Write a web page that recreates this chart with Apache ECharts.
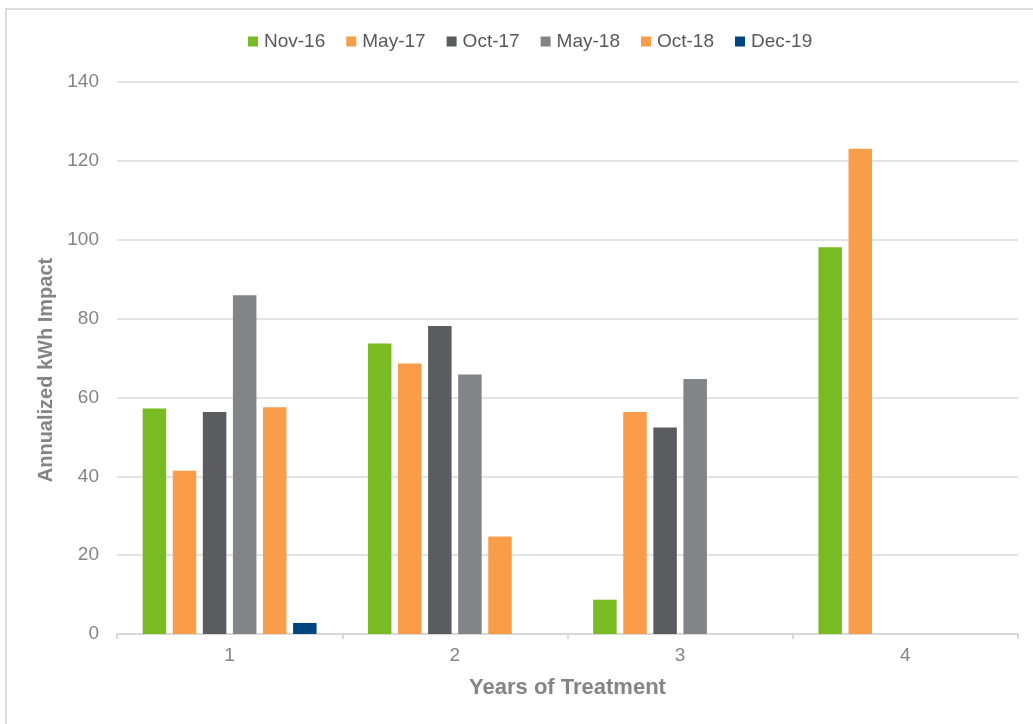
<!DOCTYPE html>
<html>
<head>
<meta charset="utf-8">
<script src="https://cdn.jsdelivr.net/npm/echarts@6/dist/echarts.min.js"></script>
<style>
  html, body { margin: 0; padding: 0; background: #fff; }
  #chart { width: 1033px; height: 724px; }
</style>
</head>
<body>
<div id="chart"></div>
<script>
// Years of treatment on the x axis
const categories = ['1', '2', '3', '4'];

// Annualized kWh impact per survey wave
const seriesNames = ['Nov-16', 'May-17', 'Oct-17', 'May-18', 'Oct-18', 'Dec-19'];
const nov16 = [57.2, 73.7, 8.7, 98.1];
const may17 = [41.4, 68.6, 56.3, 123.1];
const oct17 = [56.3, 78.1, 52.4, null];
const may18 = [85.9, 65.8, 64.7, null];
const oct18 = [57.5, 24.7, null, null];
const dec19 = [2.8, null, null, null];

const seriesValues = [nov16, may17, oct17, may18, oct18, dec19];
const seriesColors = ['#78BB22', '#F99D4B', '#5B5C60', '#838488', '#F99D4B', '#004580'];

const axisText = '#848484';

const chart = echarts.init(document.getElementById('chart'), null, { renderer: 'canvas' });

chart.setOption({
  animation: false,
  backgroundColor: '#ffffff',
  textStyle: { fontFamily: '"Liberation Sans", Arial, sans-serif' },
  graphic: [{
    type: 'rect',
    shape: { x: 6, y: 9, width: 1040, height: 730 },
    style: { fill: 'none', stroke: '#DDDDDD', lineWidth: 2 },
    silent: true
  }],
  legend: {
    top: 27,
    left: 243,
    itemWidth: 10,
    itemHeight: 10,
    itemGap: 21,
    icon: 'rect',
    textStyle: { color: '#595959', fontSize: 19, padding: [0, 0, 0, 1] },
    data: seriesNames
  },
  grid: { left: 117, right: 15, top: 82, bottom: 90, containLabel: false },
  xAxis: {
    type: 'category',
    data: categories,
    name: 'Years of Treatment',
    nameLocation: 'middle',
    nameGap: 43,
    nameTextStyle: { color: axisText, fontSize: 22, fontWeight: 'bold' },
    axisLine: { show: true, lineStyle: { color: '#D9D9D9', width: 2 } },
    axisTick: { show: true, length: 5, lineStyle: { color: '#D9D9D9', width: 2 } },
    axisLabel: { color: axisText, fontSize: 19, margin: 12 },
    splitLine: { show: false }
  },
  yAxis: {
    type: 'value',
    min: 0,
    max: 140,
    interval: 20,
    name: 'Annualized kWh Impact',
    nameLocation: 'middle',
    nameGap: 60,
    nameTextStyle: { color: axisText, fontSize: 20, fontWeight: 'bold', padding: [0, 24, 0, 0] },
    axisLine: { show: false },
    axisTick: { show: false },
    axisLabel: { color: axisText, fontSize: 19, margin: 18 },
    splitLine: { lineStyle: { color: '#E3E3E3', width: 2 } }
  },
  series: seriesNames.map((name, i) => ({
    name: name,
    type: 'bar',
    data: seriesValues[i],
    barWidth: 23.5,
    barGap: '28%',
    itemStyle: { color: seriesColors[i] }
  }))
});
</script>
</body>
</html>
